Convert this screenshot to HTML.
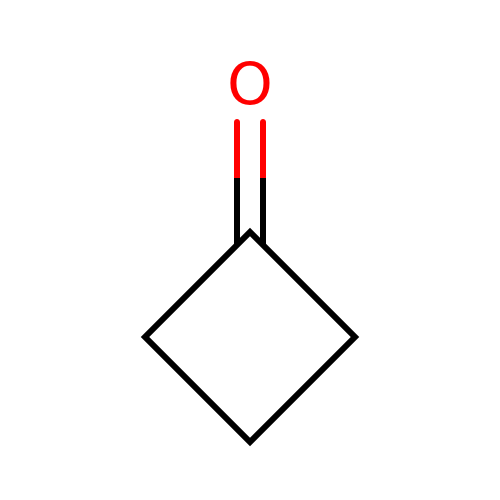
<!DOCTYPE html>
<html><head><meta charset="utf-8"><style>html,body{margin:0;padding:0;background:#fff;}svg{display:block}</style></head>
<body>
<svg width="500" height="500" viewBox="0 0 500 500">
<rect width="500" height="500" fill="#fff"/>
<g stroke-width="6" stroke-linecap="round" fill="none">
<polygon points="250,232 355,337 250,442 145,337" stroke="#000" stroke-linejoin="miter"/>
<line x1="237" y1="122" x2="237" y2="178" stroke="#f00"/>
<line x1="237" y1="178" x2="237" y2="244" stroke="#000" stroke-linecap="butt"/>
<line x1="263" y1="122" x2="263" y2="178" stroke="#f00"/>
<line x1="263" y1="178" x2="263" y2="244" stroke="#000" stroke-linecap="butt"/>
</g>
<text x="250" y="104" text-anchor="middle" font-family="DejaVu Sans, Liberation Sans, sans-serif" font-size="58" fill="#f00">O</text>
</svg>
</body></html>
